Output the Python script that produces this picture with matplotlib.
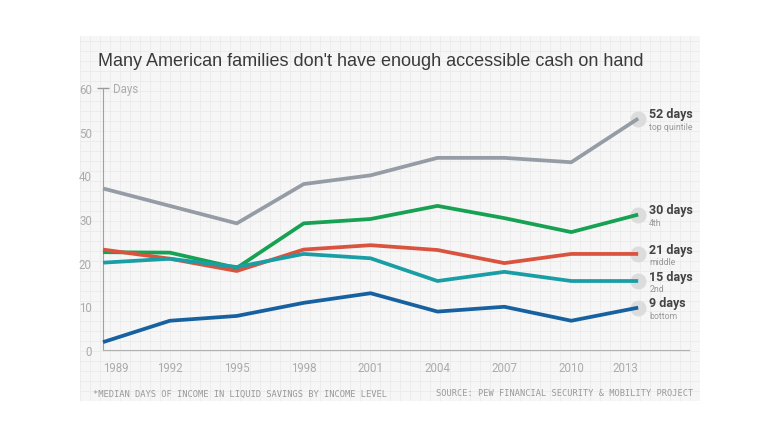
import numpy as np
import matplotlib.pyplot as plt

# datos
years = ['1989', '1992', '1995', '1998', '2001', '2004', '2007', '2010', '2013']
top_quintile = [37, 33, 29, 38, 40, 44, 44, 43, 53]
fourth = [22.4, 22.3, 18.8, 29, 30, 33, 30.2, 27, 31]
middle = [23, 20.9, 18.1, 23, 24, 22.9, 19.9, 22, 22]
second = [20, 20.9, 19, 22, 21, 15.8, 17.9, 15.8, 15.8]
bottom = [1.8, 6.7, 7.8, 10.8, 13, 8.8, 9.9, 6.7, 9.7]

series = [top_quintile, fourth, middle, second, bottom]
colores = ['#959ca6', '#17a152', '#d9533f', '#1a9ea6', '#1761a0']
etiquetas = ['52 days', '30 days', '21 days', '15 days', '9 days']
subetiquetas = ['top quintile', '4th', 'middle', '2nd', 'bottom']

W, H = 780, 439
fig = plt.figure(figsize=(W / 100, H / 100), dpi=100)
fig.patch.set_facecolor('white')

def px(x0, y0, x1, y1):
    # rectangulo en pixeles -> fraccion de figura
    return [x0 / W, 1 - y1 / H, (x1 - x0) / W, (y1 - y0) / H]

# panel de fondo con cuadricula fina
bg = fig.add_axes(px(80, 37, 700, 402))
bg.set_facecolor('#f6f6f6')
bg.set_xlim(0, 620)
bg.set_ylim(0, 365)
bg.set_xticks(np.arange(0, 620, 10))
bg.set_yticks(np.arange(0, 365, 10))
bg.grid(True, color='#ebebeb', lw=0.6)
bg.tick_params(length=0, labelbottom=False, labelleft=False)
for s in bg.spines.values():
    s.set_visible(False)

bg.text(18, 365 - 24, "Many American families don't have enough accessible cash on hand",
        fontsize=13, color='#3a3a3a', family='Liberation Sans', va='center', ha='left')
bg.text(13, 365 - 357, '*MEDIAN DAYS OF INCOME IN LIQUID SAVINGS BY INCOME LEVEL',
        fontsize=6.3, color='#999999', family='DejaVu Sans Mono', va='center', ha='left')
bg.text(613, 365 - 357, 'SOURCE: PEW FINANCIAL SECURITY & MOBILITY PROJECT',
        fontsize=6.25, color='#999999', family='DejaVu Sans Mono', va='center', ha='right')

# grafico principal
ax = fig.add_axes(px(103, 89, 689, 351))
ax.patch.set_visible(False)
x = np.arange(len(years))
for vals, c in zip(series, colores):
    ax.scatter([x[-1]], [vals[-1]], s=110, color='#dcdcdc', zorder=2, clip_on=False)
    ax.plot(x, vals, color=c, lw=2.7, zorder=3, clip_on=False, solid_capstyle='butt')

ax.set_xlim(0, 8.76)
ax.set_ylim(0, 60)
ax.set_yticks([0, 10, 20, 30, 40, 50, 60])
ax.set_xticks(x)
ax.set_xticklabels(years)
fuente = 'Roboto'
ax.tick_params(axis='both', length=0, labelsize=8.3, labelcolor='#ababab')
ax.tick_params(axis='y', pad=8)
ax.tick_params(axis='x', pad=8)
for lab in ax.get_xticklabels() + ax.get_yticklabels():
    lab.set_family(fuente)
ax.get_xticklabels()[0].set_ha('left')
ax.get_xticklabels()[-1].set_ha('right')

# marca superior en 60
t60 = ax.yaxis.get_major_ticks()[-1]
t60.tick1line.set_marker('_')
t60.tick1line.set_markersize(9)
t60.tick1line.set_markeredgewidth(1)
t60.tick1line.set_markeredgecolor('#9a9a9a')
ax.text(0.15, 60, 'Days', fontsize=8.3, color='#ababab', family=fuente, va='center', ha='left')

for s in ['top', 'right']:
    ax.spines[s].set_visible(False)
ax.spines['left'].set_color('#a0a0a0')
ax.spines['bottom'].set_color('#b0b0b0')

# etiquetas a la derecha
for vals, et, sub in zip(series, etiquetas, subetiquetas):
    y = vals[-1]
    ax.annotate(et, (x[-1], y), xytext=(8, 3.5), textcoords='offset points',
                fontsize=9, fontweight='bold', color='#444444', family=fuente,
                va='center', ha='left')
    ax.annotate(sub, (x[-1], y), xytext=(8, -5.5), textcoords='offset points',
                fontsize=6.3, color='#999999', family=fuente, va='center', ha='left')

fig.savefig('out.png', dpi=100)
